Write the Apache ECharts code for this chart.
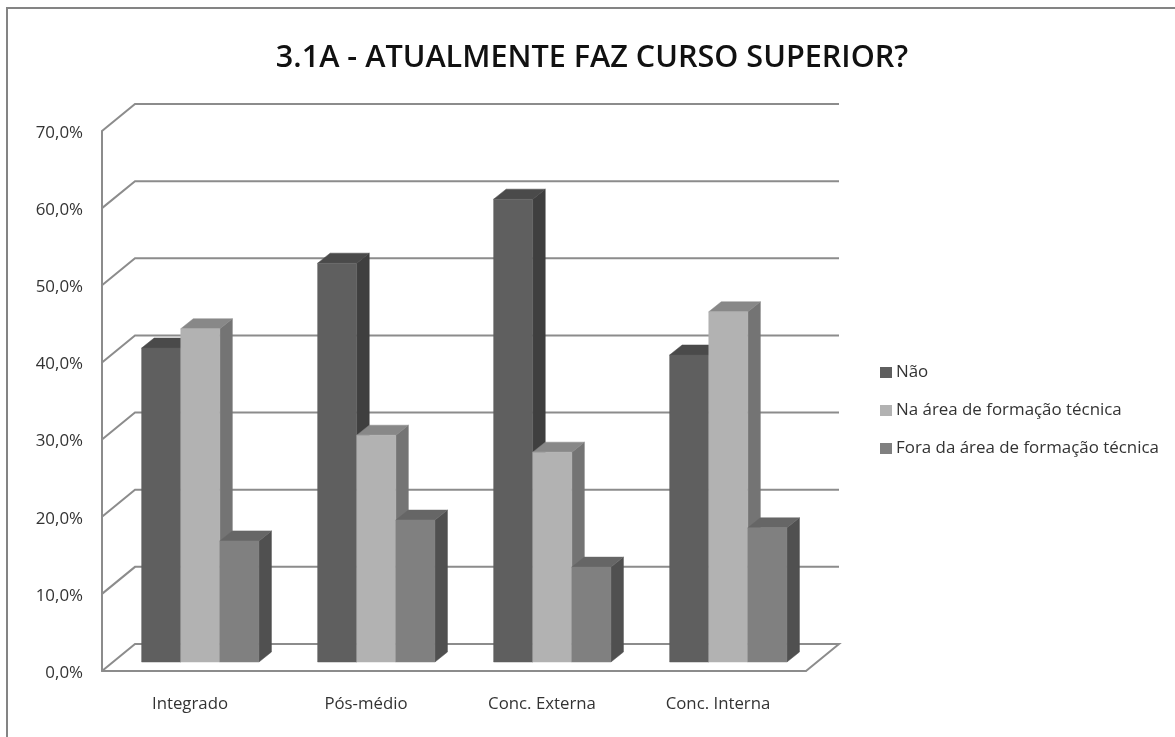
<!DOCTYPE html>
<html>
<head>
<meta charset="utf-8">
<title>3.1A</title>
<style>
    html, body { margin: 0; padding: 0; background: #fff; }
    #chart { width: 1175px; height: 737px; }
</style>
<script src="https://cdn.jsdelivr.net/npm/echarts@6/dist/echarts.min.js"></script>
</head>
<body>
<div id="chart"></div>
<script>
const categories = ['Integrado', 'Pós-médio', 'Conc. Externa', 'Conc. Interna']
const nao = [40.7, 51.7, 60.0, 39.8]
const naArea = [43.2, 29.4, 27.2, 45.4]
const foraArea = [15.7, 18.4, 12.3, 17.4]
const yTicks = [0, 10, 20, 30, 40, 50, 60, 70]

const FONT = '"Open Sans", sans-serif'
const LINE = '#8c8c8c'

const chart = echarts.init(document.getElementById('chart'))

// the fake 3d look: back wall sits behind the axis plane, bars stand halfway in
const WALL = [33, -27]
const BAR_SHIFT = [10.3, -9]
const BAR_DEPTH = [12.5, -10]
const BAR_WIDTH = 39.1

const wallItem = (params, api) => {
    const p = api.coord([0, api.value(1)])
    const band = api.size([1, 0])[0]
    const left = p[0] - band / 2
    const right = left + band * categories.length
    const pts = [[left, p[1]], [left + WALL[0], p[1] + WALL[1]], [right + WALL[0], p[1] + WALL[1]]]
    if (api.value(1) === 0) pts.push([right, p[1]])
    return {
        type: 'polyline',
        shape: { points: pts },
        style: { fill: null, stroke: LINE, lineWidth: 2 }
    }
}

const poly = (points, fill) => ({ type: 'polygon', shape: { points }, style: { fill, stroke: fill, lineWidth: 0.5 } })

const barItem = (slot, colors) => (params, api) => {
    const top = api.coord([api.value(0), api.value(1)])
    const bottom = api.coord([api.value(0), 0])
    const x0 = top[0] + BAR_SHIFT[0] + (slot - 1.5) * BAR_WIDTH
    const x1 = x0 + BAR_WIDTH
    const y0 = top[1] + BAR_SHIFT[1]
    const y1 = bottom[1] + BAR_SHIFT[1]
    const dx = BAR_DEPTH[0]
    const dy = BAR_DEPTH[1]
    return {
        type: 'group',
        children: [
            poly([[x1, y0], [x1 + dx, y0 + dy], [x1 + dx, y1 + dy], [x1, y1]], colors[2]),
            poly([[x0, y0], [x0 + dx, y0 + dy], [x1 + dx, y0 + dy], [x1, y0]], colors[1]),
            poly([[x0, y0], [x1, y0], [x1, y1], [x0, y1]], colors[0])
        ]
    }
}

const barSeries = (name, values, slot, colors) => ({
    name,
    type: 'custom',
    renderItem: barItem(slot, colors),
    data: values.map((v, i) => [i, v]),
    itemStyle: { color: colors[0] },
    encode: { x: 0, y: 1 },
    clip: false,
    z: 3 + slot
})

chart.setOption({
    animation: false,
    backgroundColor: '#fff',
    title: {
        text: '3.1A - ATUALMENTE FAZ CURSO SUPERIOR?',
        left: 587,
        top: 38,
        textAlign: 'center',
        textStyle: { fontFamily: FONT, fontSize: 30.6, fontWeight: 600, color: '#111' }
    },
    legend: {
        left: 875,
        top: 359,
        orient: 'vertical',
        icon: 'rect',
        itemWidth: 12,
        itemHeight: 11,
        itemGap: 21,
        selectedMode: false,
        data: ['Não', 'Na área de formação técnica', 'Fora da área de formação técnica'],
        textStyle: { fontFamily: FONT, fontSize: 16.9, color: '#333', padding: [0, 0, 0, -1] }
    },
    grid: { left: 102, right: 369, top: 131, bottom: 66 },
    xAxis: {
        type: 'category',
        data: categories,
        axisLine: { lineStyle: { color: LINE, width: 2 } },
        axisTick: { show: false },
        axisLabel: { margin: 25, fontFamily: FONT, fontSize: 16.8, color: '#333' }
    },
    yAxis: {
        type: 'value',
        min: 0,
        max: 70,
        interval: 10,
        axisLine: { show: true, lineStyle: { color: LINE, width: 2 } },
        axisTick: { show: false },
        splitLine: { show: false },
        axisLabel: {
            margin: 19,
            formatter: v => '{t|' + v.toFixed(1).replace('.', ',') + '%}',
            rich: {
                t: { fontFamily: FONT, fontSize: 16.9, color: '#333', padding: [4, 0, 0, 0] }
            }
        }
    },
    series: [
        {
            type: 'custom',
            silent: true,
            renderItem: wallItem,
            data: yTicks.map(t => [0, t]),
            encode: { x: 0, y: 1 },
            clip: false,
            z: 1
        },
        barSeries('Não', nao, 0, ['#5f5f5f', '#4a4a4a', '#3f3f3f']),
        barSeries('Na área de formação técnica', naArea, 1, ['#b2b2b2', '#888888', '#747474']),
        barSeries('Fora da área de formação técnica', foraArea, 2, ['#808080', '#666666', '#505050'])
    ],
    graphic: [
        {
            type: 'polyline',
            shape: { points: [[7, 737], [7, 8], [1175, 8]] },
            style: { fill: null, stroke: '#848484', lineWidth: 2 },
            silent: true
        }
    ]
})
</script>
</body>
</html>
